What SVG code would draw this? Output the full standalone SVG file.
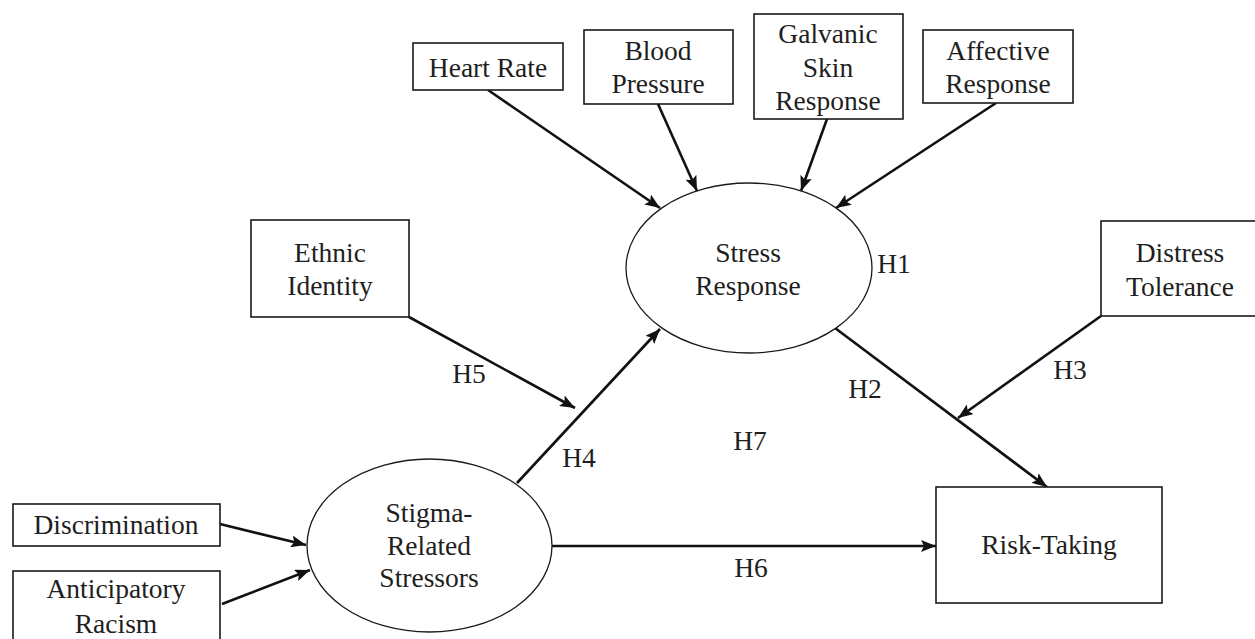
<svg xmlns="http://www.w3.org/2000/svg" width="1255" height="639" viewBox="0 0 1255 639">
  <style>
    text { font-family: "Liberation Serif", "Times New Roman", serif; font-size: 27.5px; fill: #1e1e1e; text-anchor: middle; }
    .box { fill: #ffffff; stroke: #1a1a1a; stroke-width: 1.6; }
    .ell { fill: #ffffff; stroke: #1a1a1a; stroke-width: 1.3; }
    .arr { stroke: #111111; stroke-width: 2.6; fill: none; marker-end: url(#ah); }
  </style>
  <defs>
    <marker id="ah" markerUnits="userSpaceOnUse" markerWidth="16" markerHeight="12" refX="15" refY="6" orient="auto">
      <path d="M0,0 L15,6 L0,12 L3,6 z" fill="#111111"/>
    </marker>
  </defs>
  <rect width="1255" height="639" fill="#ffffff"/>

  <g id="connectors">
    <line class="arr" x1="488" y1="90" x2="660" y2="208"/>
    <line class="arr" x1="658" y1="104" x2="697" y2="191"/>
    <line class="arr" x1="827" y1="119" x2="801" y2="191"/>
    <line class="arr" x1="996" y1="103" x2="836" y2="208"/>
    <line class="arr" x1="409" y1="317" x2="575" y2="408"/>
    <line class="arr" x1="517" y1="483" x2="660" y2="329"/>
    <line class="arr" x1="835" y1="328" x2="1047" y2="487"/>
    <line class="arr" x1="1101" y1="316" x2="958" y2="418"/>
    <line class="arr" x1="552" y1="546" x2="936" y2="546"/>
    <line class="arr" x1="220" y1="524" x2="306" y2="545"/>
    <line class="arr" x1="222" y1="604" x2="310" y2="570"/>
    <text x="469" y="383">H5</text>
    <text x="579" y="467">H4</text>
    <text x="894" y="273">H1</text>
    <text x="865" y="398">H2</text>
    <text x="1070" y="379">H3</text>
    <text x="750" y="450">H7</text>
    <text x="751" y="577">H6</text>
  </g>

  <g id="heart-rate">
    <rect class="box" x="413" y="43" width="150" height="47"/>
    <text x="488" y="77">Heart Rate</text>
  </g>
  <g id="blood-pressure">
    <rect class="box" x="584" y="30" width="149" height="74"/>
    <text x="658" y="60">Blood</text>
    <text x="658" y="93">Pressure</text>
  </g>
  <g id="galvanic-skin-response">
    <rect class="box" x="754" y="14" width="149" height="105"/>
    <text x="828" y="43">Galvanic</text>
    <text x="828" y="77">Skin</text>
    <text x="828" y="110">Response</text>
  </g>
  <g id="affective-response">
    <rect class="box" x="923" y="30" width="150" height="73"/>
    <text x="998" y="60">Affective</text>
    <text x="998" y="93">Response</text>
  </g>
  <g id="stress-response">
    <ellipse class="ell" cx="749" cy="268" rx="123" ry="85"/>
    <text x="748" y="262">Stress</text>
    <text x="748" y="295">Response</text>
  </g>
  <g id="ethnic-identity">
    <rect class="box" x="251" y="220" width="158" height="97"/>
    <text x="330" y="262">Ethnic</text>
    <text x="330" y="295">Identity</text>
  </g>
  <g id="distress-tolerance">
    <rect class="box" x="1101" y="221" width="156" height="95"/>
    <text x="1180" y="262">Distress</text>
    <text x="1180" y="296">Tolerance</text>
  </g>
  <g id="stigma-related-stressors">
    <ellipse class="ell" cx="429.5" cy="545.5" rx="122.5" ry="86.5"/>
    <text x="429" y="522">Stigma-</text>
    <text x="429" y="555">Related</text>
    <text x="429" y="587">Stressors</text>
  </g>
  <g id="risk-taking">
    <rect class="box" x="936" y="487" width="226" height="116"/>
    <text x="1049" y="554">Risk-Taking</text>
  </g>
  <g id="discrimination">
    <rect class="box" x="13" y="504" width="207" height="42"/>
    <text x="116" y="534">Discrimination</text>
  </g>
  <g id="anticipatory-racism">
    <rect class="box" x="13" y="571" width="207" height="80"/>
    <text x="116" y="598">Anticipatory</text>
    <text x="116" y="633">Racism</text>
  </g>
</svg>
